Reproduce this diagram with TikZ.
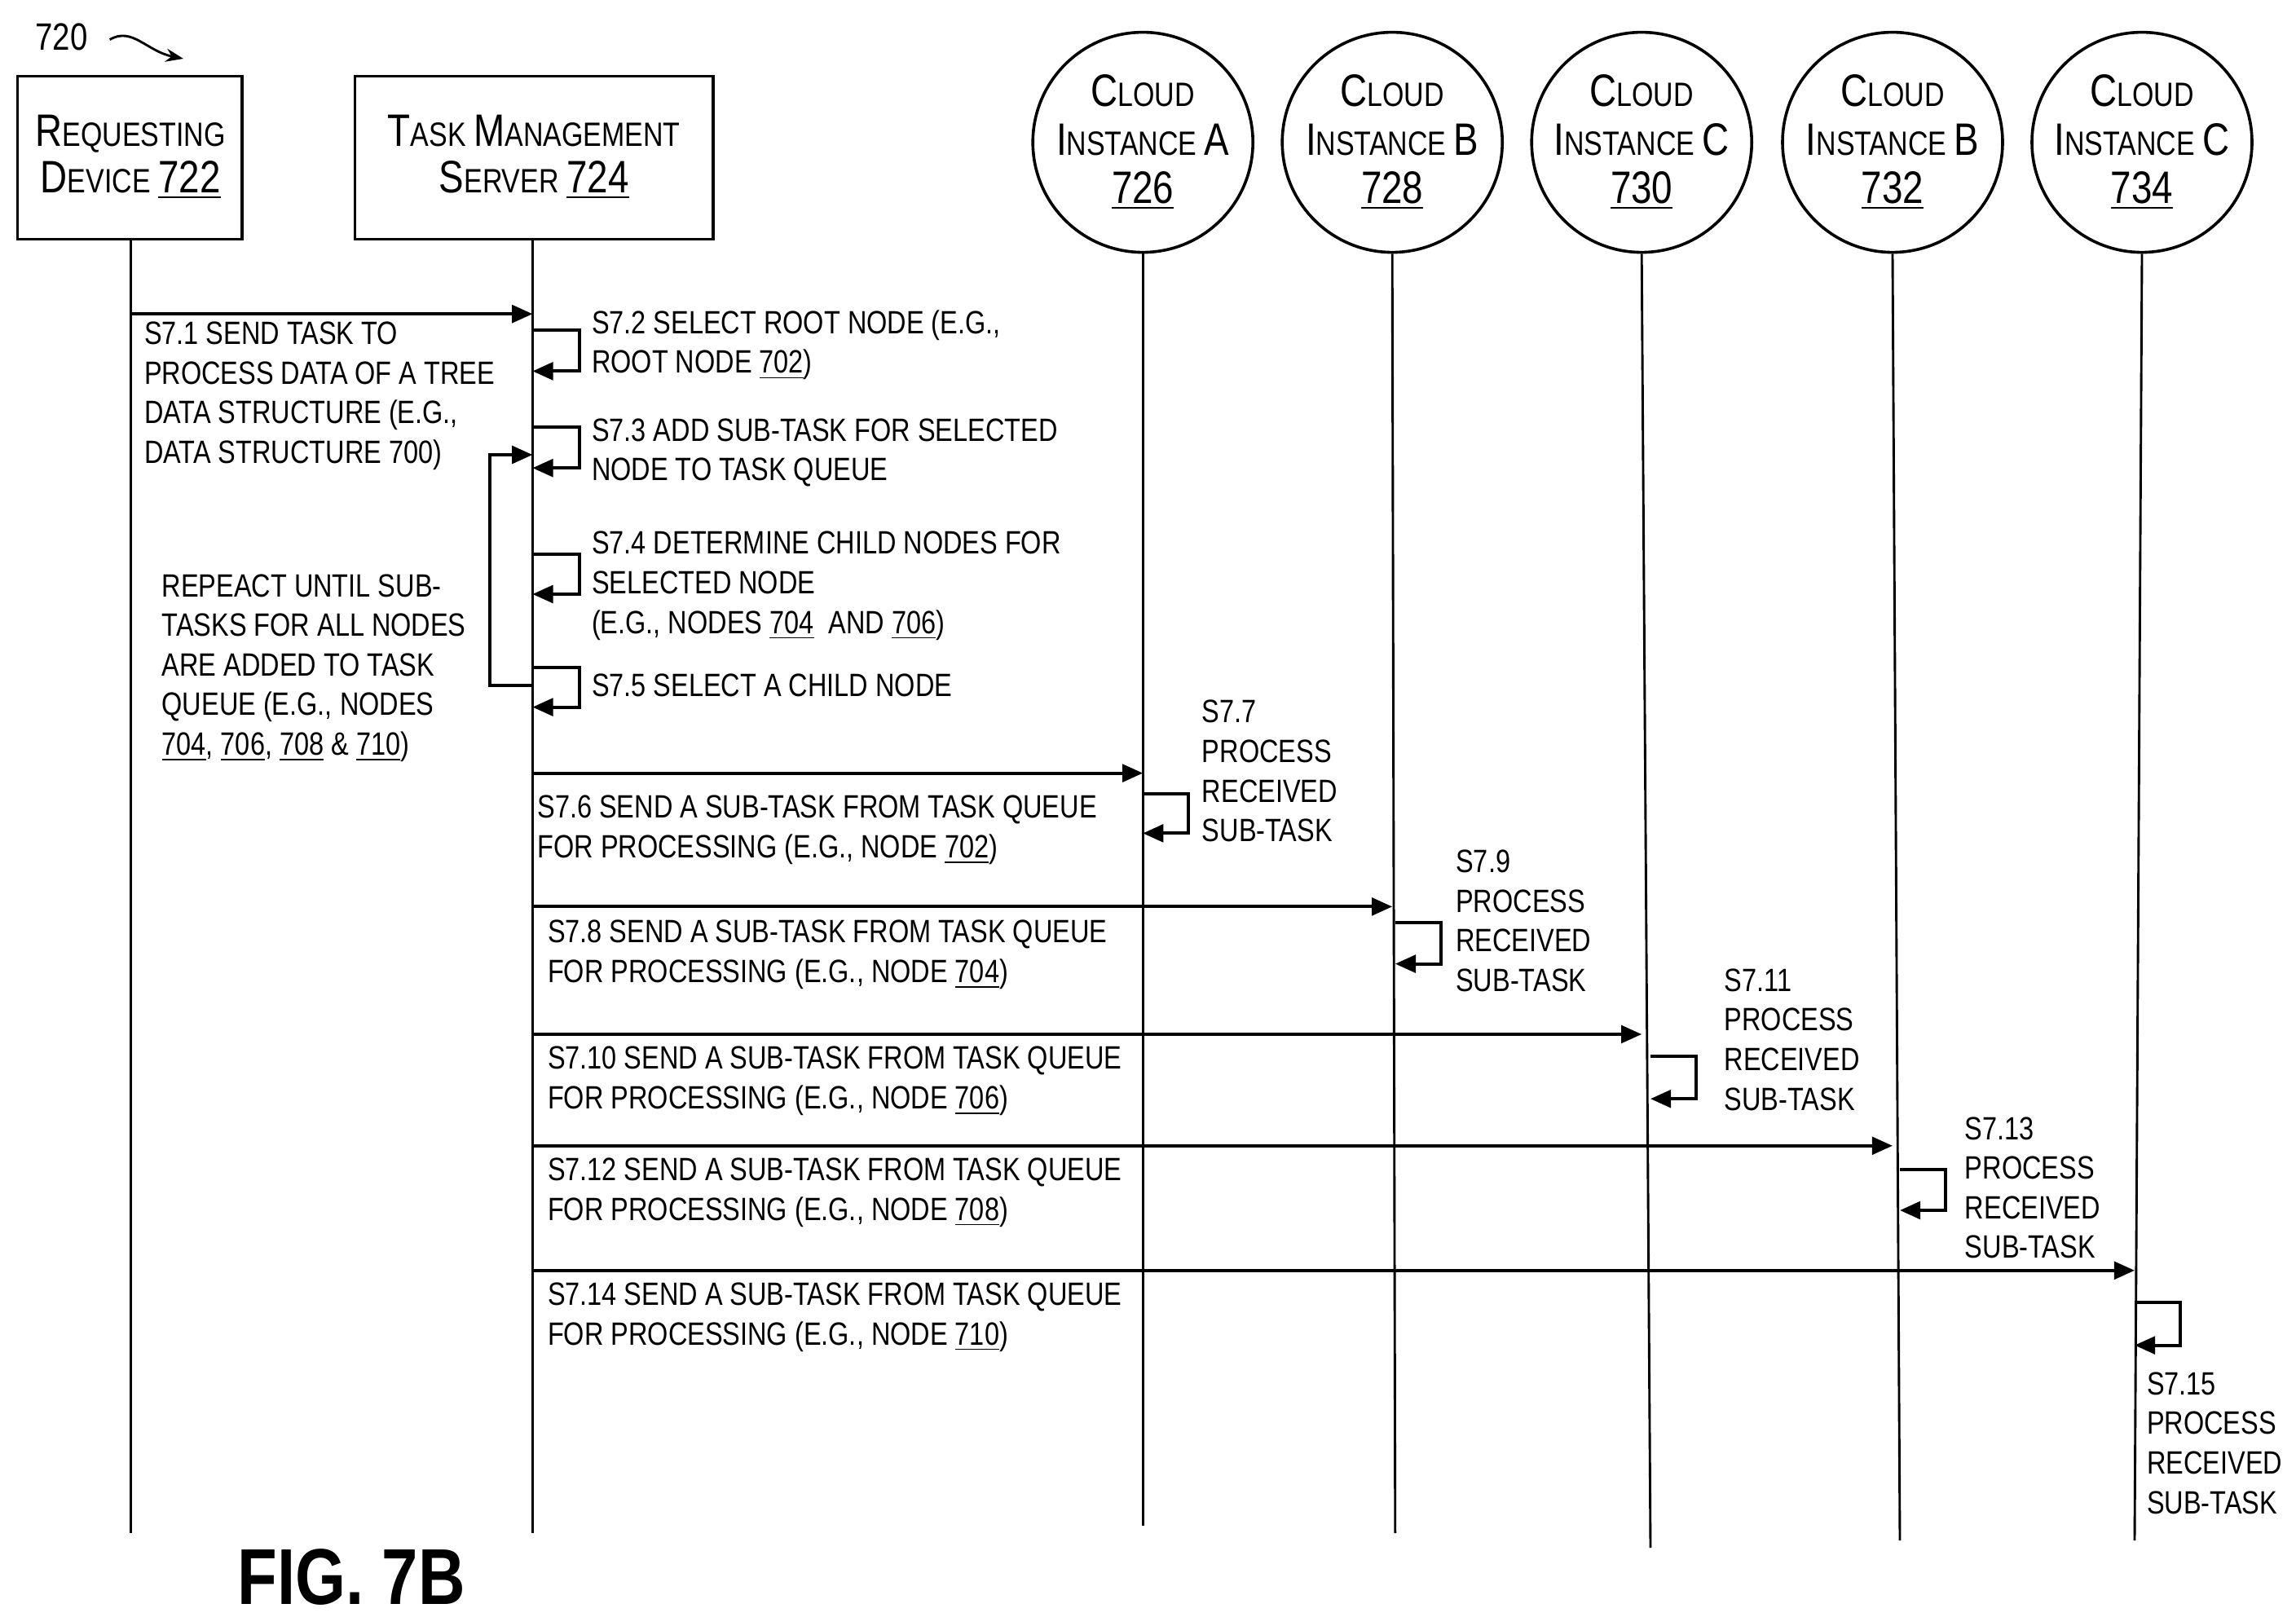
\documentclass[tikz,border=0pt]{standalone}
\usepackage{fontspec}
\setmainfont[FakeStretch=0.82]{Liberation Sans}
\usetikzlibrary{arrows.meta}
\newcommand\BC[1]{{\fontsize{15.5}{15.5}\selectfont #1}}
\begin{document}
\begin{tikzpicture}[x=0.5pt,y=-0.5pt,
 life/.style={line width=0.8pt},
 msg/.style={line width=1.1pt,-{Triangle[length=7pt,width=6pt]}},
 txt/.style={anchor=north west,inner sep=0,align=left,font=\fontsize{11}{13.5}\selectfont},
 hdr/.style={align=center,font=\fontsize{11.5}{16}\selectfont},
 box/.style={draw,line width=1pt},
 circ/.style={draw,circle,line width=1pt,minimum size=75pt,inner sep=0}]
\useasboundingbox (0,0) rectangle (1565,1102);
% headers
\draw[box] (12,52) rectangle (165,163);
\node[hdr] (rd) at (89,107) {\BC{R}EQUESTING\\\BC{D}EVICE \underline{\BC{722}}};
\draw[box] (242,52) rectangle (486,163);
\node[hdr] (tms) at (364,107) {\BC{T}ASK \BC{M}ANAGEMENT\\\BC{S}ERVER \underline{\BC{724}}};
\foreach \n/\x/\l/\num in {a/779/A/726,b/949/B/728,c/1119/C/730,d/1290/B/732,e/1460/C/734}{
 \node[circ] (\n) at (\x,97) {};
 \node[hdr,font=\fontsize{11.5}{16.5}\selectfont] (\n t) at (\x,97) {\BC{C}LOUD\\\BC{I}NSTANCE \BC{\l}\\\BC{\underline{\num}}};
}
% lifelines
\coordinate (rdb) at (89,163); \coordinate (rde) at (89,1045);
\coordinate (tmb) at (363,163); \coordinate (tme) at (363,1045);
\draw[life] (rdb)--(rde); \draw[life] (tmb)--(tme);
\coordinate (ae) at (779,1040); \coordinate (be) at (951,1045); \coordinate (ce) at (1125,1055);
\coordinate (de) at (1295,1050); \coordinate (ee) at (1455,1050);
\draw[life] (a.south)--(ae); \draw[life] (b.south)--(be); \draw[life] (c.south)--(ce);
\draw[life] (d.south)--(de); \draw[life] (e.south)--(ee);
% 720
\node[font=\fontsize{13}{13}\selectfont] (lbl) at (42,25) {720};
\coordinate (sq) at (125,40);
\draw[-{Stealth[length=6pt]},line width=0.8pt] (lbl.east) ++(8,2) .. controls (90,18) and (100,35) .. (sq);
% messages
\coordinate (m1s) at (89,214); \coordinate (m1e) at (363,214);
\draw[msg] (m1s)--(m1e);
\node[txt] (t1) at (98,219) {S7.1 SEND TASK TO\\PROCESS DATA OF A TREE\\DATA STRUCTURE (E.G.,\\DATA STRUCTURE 700)};
\foreach \i/\ya/\yb in {2/225/253,3/291/319,4/378/405,5/455/482}{
 \coordinate (l\i a) at (363,\ya); \coordinate (l\i b) at (363,\yb);
 \draw[msg] (l\i a) -- ++(32,0) |- (l\i b);
}
\node[txt] (t2) at (403,211) {S7.2 SELECT ROOT NODE (E.G.,\\ROOT NODE \underline{702})};
\node[txt] (t3) at (403,285) {S7.3 ADD SUB-TASK FOR SELECTED\\NODE TO TASK QUEUE};
\node[txt] (t4) at (403,362) {S7.4 DETERMINE CHILD NODES FOR\\SELECTED NODE\\(E.G., NODES \underline{704}\ \ AND \underline{706})};
\node[txt] (t5) at (403,459) {S7.5 SELECT A CHILD NODE};
\coordinate (r1) at (363,467); \coordinate (r2) at (363,310);
\draw[msg] (r1) -- (334,467) |- (r2);
\node[txt] (tr) at (110,391) {REPEACT UNTIL SUB-\\TASKS FOR ALL NODES\\ARE ADDED TO TASK\\QUEUE (E.G., NODES\\\underline{704}, \underline{706}, \underline{708} \& \underline{710})};
% sends
\foreach \n/\y/\x/\ty/\tx/\lab/\nd in {6/527/779/542/366/S7.6/702,8/618/949/627/373/S7.8/704,10/705/1119/713/373/S7.10/706,12/781/1290/789/373/S7.12/708,14/866/1455/874/373/S7.14/710}{
 \coordinate (s\n a) at (363,\y); \coordinate (s\n b) at (\x,\y);
 \draw[msg] (s\n a)--(s\n b);
 \node[txt] (ts\n) at (\tx,\ty) {\lab\ SEND A SUB-TASK FROM TASK QUEUE\\FOR PROCESSING (E.G., NODE \underline{\nd})};
}
% processing loops
\foreach \n/\x/\ya/\yb in {7/779/541/568,9/951/629/657,11/1125/720/749,13/1295/797/825,15/1455/888/917}{
 \coordinate (p\n a) at (\x,\ya); \coordinate (p\n b) at (\x,\yb);
 \draw[msg] (p\n a) -- ++(31,0) |- (p\n b);
}
\node[txt] (t7) at (819,477) {S7.7\\PROCESS\\RECEIVED\\SUB-TASK};
\node[txt] (t9) at (992,579) {S7.9\\PROCESS\\RECEIVED\\SUB-TASK};
\node[txt] (t11) at (1175,660) {S7.11\\PROCESS\\RECEIVED\\SUB-TASK};
\node[txt] (t13) at (1339,761) {S7.13\\PROCESS\\RECEIVED\\SUB-TASK};
\node[txt] (t15) at (1463,935) {S7.15\\PROCESS\\RECEIVED\\SUB-TASK};
\node[anchor=west,font=\fontsize{27}{27}\selectfont\bfseries] (fig) at (155,1075) {FIG. 7B};
\end{tikzpicture}
\end{document}
